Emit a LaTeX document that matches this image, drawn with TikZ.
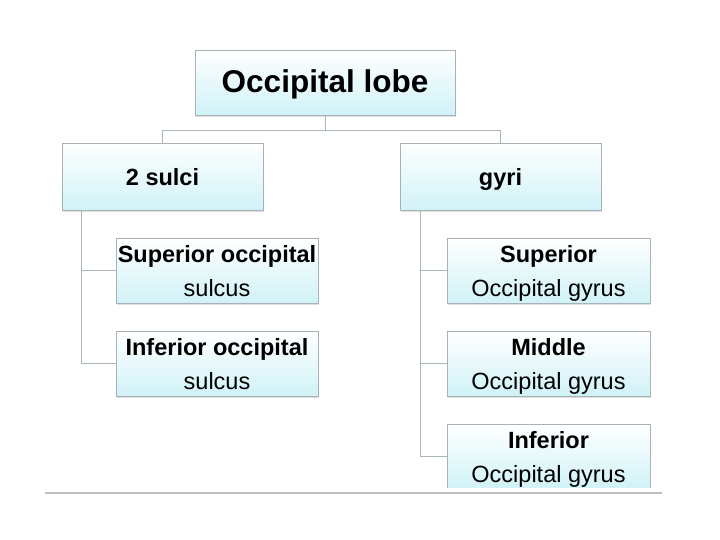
\documentclass[tikz,border=0pt]{standalone}
\usepackage{fontspec}
\setmainfont{Liberation Sans}
\usetikzlibrary{shadows}

\definecolor{boxcyan}{RGB}{208,242,247}
\definecolor{boxline}{RGB}{168,178,182}
\definecolor{linkgray}{RGB}{170,184,190}

\begin{document}
\begin{tikzpicture}[x=1pt,y=-1pt,
	lobebox/.style={draw=boxline,thin,top color=white,bottom color=boxcyan,
		drop shadow={opacity=0.25,shadow xshift=1pt,shadow yshift=-2pt},
		inner sep=0pt,text depth=0pt,align=center,font=\fontsize{23.5}{34}\selectfont},
	link/.style={draw=linkgray,line width=1pt}]
	\useasboundingbox (0,0) rectangle (720,540);
	% Top of tree
	\node[lobebox,minimum width=260pt,minimum height=65pt,text depth=2pt,font=\fontsize{31.5}{36}\selectfont\bfseries] (lobe) at (325,82.5) {Occipital lobe};
	\node[lobebox,minimum width=201pt,minimum height=67pt] (sulci) at (162.5,176.5) {\textbf{2 sulci}};
	\node[lobebox,minimum width=201pt,minimum height=67pt] (gyri) at (500.5,176.5) {\textbf{gyri}};
	\draw[link] (lobe.south) -- ++(0,15) -| (sulci.north);
	\draw[link] (lobe.south) -- ++(0,15) -| (gyri.north);
	% Sulci
	\node[lobebox,minimum width=202pt,minimum height=65pt] (supsul) at (217,270.5) {\textbf{Superior occipital}\\sulcus};
	\node[lobebox,minimum width=202pt,minimum height=65pt] (infsul) at (217,363.5) {\textbf{Inferior occipital}\\sulcus};
	\draw[link] (sulci.south west) ++(20,0) |- (supsul.west);
	\draw[link] (sulci.south west) ++(20,0) |- (infsul.west);
	% Gyri
	\node[lobebox,minimum width=203pt,minimum height=65pt] (supgyr) at (548.5,270.5) {\textbf{Superior}\\Occipital gyrus};
	\node[lobebox,minimum width=203pt,minimum height=65pt] (midgyr) at (548.5,363.5) {\textbf{Middle}\\Occipital gyrus};
	\begin{scope}
		\clip (0,0) rectangle (720,487);
		\node[lobebox,minimum width=203pt,minimum height=65pt] (infgyr) at (548.5,456.5) {\textbf{Inferior}\\Occipital gyrus};
	\end{scope}
	\draw[link] (gyri.south west) ++(21,0) |- (supgyr.west);
	\draw[link] (gyri.south west) ++(21,0) |- (midgyr.west);
	\draw[link] (gyri.south west) ++(21,0) |- (infgyr.west);
	% cut edge at the bottom
	\draw[black!25,line width=1.5pt] (45,493) -- (662,493);
\end{tikzpicture}
\end{document}
